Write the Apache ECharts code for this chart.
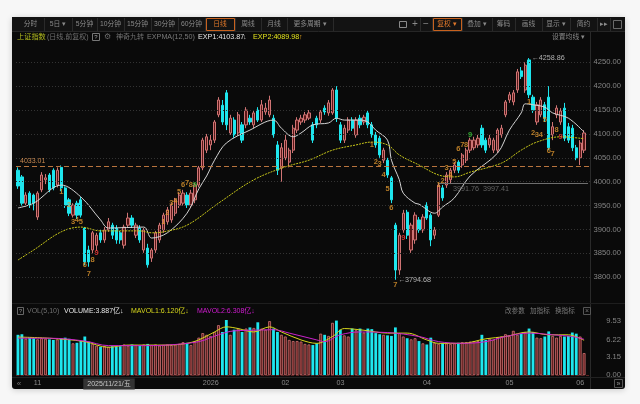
<!DOCTYPE html>
<html><head><meta charset="utf-8">
<script src="https://cdn.jsdelivr.net/npm/echarts@6/dist/echarts.min.js"></script>
<style>
html,body{margin:0;padding:0;background:#f7f7f7;width:640px;height:404px;overflow:hidden;}
#panel{position:absolute;left:12px;top:17px;width:613px;height:372px;background:#0a0a0a;border-radius:3px;box-shadow:0 1px 6px rgba(0,0,0,0.18);}
#c{position:absolute;left:0;top:0;width:640px;height:404px;}
</style></head><body><div id="panel"></div><div id="c"></div>
<script>
// ---------- DATA ----------
// candles: [open, close, low, high]
const candles = [
[4024,3991,3985,4030],[4010,3955,3950,4014],[3955,3972,3948,3978],[3976,3951,3945,3980],[3972,3955,3940,3975],
[3926,3976,3920,3980],[3983,4014,3978,4020],[4004,4008,3995,4016],[4014,3983,3978,4018],[4024,3987,3982,4028],
[3993,4024,3988,4030],[4030,3987,3980,4034],[3987,3951,3945,3990],[3962,3934,3928,3966],[3930,3951,3925,3955],
[3955,3930,3922,3960],[3962,3930,3925,3968],[3903,3832,3825,3905],[3857,3832,3822,3866],[3857,3893,3850,3897],
[3867,3888,3855,3893],[3893,3878,3872,3899],[3878,3899,3872,3905],[3899,3916,3895,3924],[3909,3888,3880,3914],
[3903,3878,3870,3909],[3893,3878,3870,3897],[3867,3905,3860,3910],[3909,3924,3905,3935],[3924,3909,3903,3930],
[3888,3909,3882,3914],[3903,3878,3872,3909],[3857,3899,3851,3903],[3861,3826,3820,3870],[3840,3857,3832,3861],
[3857,3893,3851,3897],[3878,3909,3872,3914],[3899,3930,3893,3935],[3916,3941,3910,3947],[3920,3951,3914,3955],
[3934,3962,3928,3966],[3951,3972,3945,3978],[3955,3976,3950,3983],[3972,3951,3945,3978],[3951,3976,3945,3983],
[3962,3993,3955,3997],[3993,4029,3988,4033],[4029,4087,4024,4092],[4066,4094,4060,4100],[4077,4087,4066,4098],
[4087,4125,4081,4129],[4140,4171,4135,4177],[4160,4125,4119,4171],[4186,4119,4108,4192],[4102,4133,4098,4140],
[4129,4098,4092,4135],[4102,4140,4096,4146],[4119,4087,4081,4125],[4119,4150,4112,4156],[4133,4125,4119,4140],
[4119,4144,4112,4150],[4150,4129,4125,4156],[4129,4161,4125,4171],[4146,4154,4140,4165],[4140,4171,4135,4180],
[4133,4098,4092,4140],[4077,4024,4014,4085],[4029,4071,4000,4081],[4050,4087,4045,4098],[4041,4066,4030,4071],
[4066,4112,4060,4119],[4108,4129,4102,4135],[4125,4133,4119,4140],[4129,4140,4123,4146],[4133,4144,4129,4150],
[4119,4087,4081,4125],[4133,4119,4112,4138],[4129,4146,4123,4150],[4154,4146,4140,4160],[4144,4165,4138,4171],
[4144,4192,4140,4196],[4192,4133,4125,4200],[4119,4087,4081,4125],[4087,4112,4081,4119],[4108,4129,4102,4135],
[4129,4112,4106,4135],[4098,4129,4092,4135],[4133,4119,4112,4140],[4125,4135,4119,4140],[4144,4119,4112,4150],
[4119,4098,4092,4125],[4098,4077,4071,4104],[4091,4056,4050,4096],[4045,4066,4039,4071],[4045,4014,4008,4050],
[4008,3962,3955,4012],[3909,3815,3794.68,3914],[3815,3888,3805,3893],[3899,3934,3893,3941],[3936,3888,3880,3941],
[3857,3909,3851,3914],[3878,3930,3870,3936],[3920,3899,3893,3926],[3899,3926,3893,3932],[3951,3924,3920,3957],
[3930,3878,3865,3934],[3888,3899,3880,3905],[3930,3993,3926,3997],[3987,3966,3960,3993],[3993,4014,3987,4020],
[4004,4024,3995,4029],[4024,4035,4018,4041],[4041,4024,4018,4045],[4035,4056,4029,4060],[4045,4066,4039,4071],
[4066,4087,4060,4092],[4071,4087,4066,4094],[4077,4091,4071,4098],[4112,4077,4071,4119],[4087,4066,4060,4092],
[4077,4091,4071,4098],[4066,4087,4060,4092],[4066,4108,4060,4112],[4098,4112,4092,4119],[4140,4167,4135,4171],
[4171,4182,4165,4188],[4167,4186,4160,4192],[4192,4230,4186,4236],[4232,4220,4215,4240],[4192,4244,4186,4250],
[4255,4182,4175,4258.86],[4177,4150,4144,4182],[4125,4161,4119,4167],[4140,4171,4135,4177],[4161,4133,4125,4167],
[4177,4071,4066,4200],[4098,4115,4087,4125],[4140,4154,4133,4160],[4125,4148,4119,4154],[4154,4091,4085,4165],
[4115,4087,4081,4123],[4112,4071,4064,4119],[4071,4050,4045,4077],[4050,4081,4035,4087],[4066,4102,4060,4108]
];
// volume (亿)
const volumes = [
7.1,7.2,6.4,6.6,6.5,6.3,6.5,6.4,6.3,6.2,6.3,6.5,6.6,6.4,5.6,5.7,6.0,6.8,5.9,5.5,
5.2,5.0,5.1,5.0,5.1,5.0,5.1,5.4,5.2,5.4,5.3,5.3,5.4,5.5,5.3,5.4,5.2,5.3,5.4,5.3,
5.4,5.5,5.8,5.7,5.3,6.0,6.6,7.4,7.1,6.9,7.6,8.8,7.6,9.7,7.1,8.0,8.2,7.6,8.2,8.4,
8.3,9.3,8.2,8.0,9.5,8.2,7.6,7.1,6.8,6.2,6.0,6.0,5.9,5.5,5.4,5.3,5.6,7.3,7.1,6.9,
9.2,9.6,8.0,7.0,6.8,8.2,7.9,8.2,7.5,8.2,8.1,7.4,7.2,7.1,7.0,6.9,8.4,7.4,6.8,6.5,
6.3,6.5,6.0,5.6,5.4,6.6,5.7,5.5,5.6,5.6,5.5,5.6,5.7,5.8,5.8,5.9,6.0,6.0,7.1,6.2,
6.4,6.2,6.7,6.8,7.2,6.9,7.8,7.1,7.3,7.6,8.2,7.6,6.6,6.5,6.8,7.7,6.9,6.6,6.9,6.8,
6.9,7.5,7.3,6.8,3.887
];
// EXPMA lines read as [candle index, value]
const exp1Pts = [[0,3945],[4,3955],[11,3993],[16,3968],[21,3920],[23,3903],[32,3905],[34,3882],[38,3893],[43,3934],[46,3985],[48,4012],[50,4045],[53,4081],[59,4108],[65,4129],[67,4112],[70,4094],[72,4102],[75,4119],[79,4123],[81,4133],[83,4129],[87,4129],[89,4125],[91,4108],[94,4087],[95,4045],[97,4004],[98,3976],[101,3955],[102,3953],[106,3934],[108,3947],[111,3966],[115,4012],[122,4060],[125,4108],[128,4144],[129,4163],[131,4161],[134,4156],[136,4144],[140,4133],[144,4103.87]];
const exp2Pts = [[0,3836],[4,3857],[11,3895],[16,3905],[21,3897],[31,3897],[34,3893],[37,3895],[43,3909],[51,3955],[60,4004],[68,4031],[74,4045],[80,4066],[86,4077],[90,4083],[94,4077],[97,4056],[102,4035],[107,4014],[111,4010],[115,4020],[123,4039],[128,4066],[132,4083],[138,4094],[144,4089.98]];
const mavol1Pts = [[0,6.7],[8,6.5],[17,5.9],[23,4.9],[28,5.3],[38,5.3],[43,5.6],[46,6.2],[50,7.6],[53,8.5],[56,8.2],[60,7.6],[64,8.5],[67,7.6],[72,6.2],[76,5.6],[80,6.8],[83,8.2],[88,7.9],[94,7.4],[99,7.4],[104,6.2],[107,5.6],[113,5.6],[119,6.4],[124,6.8],[130,7.6],[135,7.1],[140,7.1],[144,6.12]];
const mavol2Pts = [[0,6.5],[8,6.5],[17,6.0],[23,5.2],[33,5.2],[38,5.3],[46,5.9],[51,7.1],[55,7.8],[60,7.9],[65,8.0],[69,7.4],[76,6.2],[78,5.9],[82,7.1],[87,7.6],[94,7.5],[102,6.8],[107,5.9],[113,5.6],[119,5.9],[124,6.8],[130,7.4],[136,7.1],[141,6.8],[144,6.31]];
// 神奇九转 marks: [index, price, text, colour key]
const nineMarks = [
[11,3978,'1','o'],[13,3951,'2','o'],[14,3916,'3','o'],[15,3920,'4','o'],[16,3916,'5','o'],[17,3826,'6','o'],[18,3807,'7','o'],[19,3836,'8','o'],[20,3851,'9','r'],
[37,3916,'1','o'],[38,3934,'2','o'],[39,3955,'3','o'],[40,3960,'4','o'],[41,3978,'5','o'],[42,3993,'6','o'],[43,3997,'7','o'],[44,3993,'8','o'],[45,3993,'9','g'],
[90,4077,'1','o'],[91,4041,'2','o'],[92,4037,'3','o'],[93,4014,'4','o'],[94,3985,'5','o'],[95,3945,'6','o'],[96,3784,'7','o'],[98,3882,'9','r'],
[107,3993,'1','o'],[108,4002,'2','o'],[109,4029,'3','o'],[110,4014,'4','o'],[111,4041,'5','o'],[112,4068,'6','o'],[113,4077,'7','o'],[114,4077,'8','o'],[115,4098,'9','g'],
[130,4167,'1','o'],[131,4102,'2','o'],[132,4098,'3','o'],[133,4098,'4','o'],[134,4129,'5','o'],[135,4064,'6','o'],[136,4058,'7','o'],[137,4108,'8','o'],[138,4094,'9','r']
];
const priceTicks = [3800,3850,3900,3950,4000,4050,4100,4150,4200,4250];
const volTicks = [0,3.15,6.22,9.53];
const tickLabels = {4:'11',47:'2026',67:'02',81:'03',103:'04',124:'05',142:'06'};
const refLine = 4033.01, drawLine = 3997.41;
const peak = {idx:130, val:4258.86}, low = {idx:96, val:3794.68};

// ---------- CHART ----------
const FONT = '"Liberation Sans","Noto Sans CJK SC",sans-serif';
const UP_FILL = '#5a1616', UP_LINE = '#cf7474', DOWN = '#1ee6ee';
const categories = Array.from({length: candles.length + 1}, (_, i) => String(i));
const nineColor = {o:'#e39a2f', r:'#ff3a3a', g:'#3ccf3c'};

function txt(x, y, text, fill, size, extra) {
  return Object.assign({type:'text', x:x, y:y, silent:true,
    style:Object.assign({text:text, fill:fill, fontSize:size||7, fontFamily:FONT, verticalAlign:'middle'}, extra||{})});
}
function ln(x1,y1,x2,y2,c){return {type:'line',silent:true,shape:{x1,y1,x2,y2},style:{stroke:c,lineWidth:1}};}
function box(x,y,w,h,c,fill){return {type:'rect',silent:true,shape:{x,y,width:w,height:h},style:{stroke:c,fill:fill||'transparent',lineWidth:1}};}

const graphics = [];
// toolbar
graphics.push({type:'rect',silent:true,shape:{x:12,y:17,width:613,height:14},style:{fill:'#131313'}});
graphics.push(ln(12,31.5,625,31.5,'#262626'));
const leftBtns = [[17,44,'分时'],[44,72,'5日 ▾'],[72,97,'5分钟'],[97,124,'10分钟'],[124,151,'15分钟'],[151,178,'30分钟'],[178,205,'60分钟'],[205,235,'日线'],[235,261,'周线'],[261,287,'月线'],[287,333,'更多周期 ▾']];
leftBtns.forEach(b=>{
  const on = b[2]==='日线';
  graphics.push(txt((b[0]+b[1])/2,24.5,b[2],on?'#e0782a':'#8a8a8a',6.8,{align:'center'}));
  graphics.push(ln(b[1]+0.5,18,b[1]+0.5,31,'#2a2a2a'));
  if(on) graphics.push(box(b[0]+1.5,18.5,b[1]-b[0]-2,12,'#c8621e'));
});
const rightBtns = [[410,420,'+'],[420,432,'−'],[432,462,'复权 ▾'],[462,492,'叠加 ▾'],[492,515,'筹码'],[515,542,'画线'],[542,570,'显示 ▾'],[570,597,'简约'],[597,610,'▸▸']];
rightBtns.forEach(b=>{
  const on = b[2]==='复权 ▾';
  graphics.push(txt((b[0]+b[1])/2,24.5,b[2],on?'#e0782a':'#8a8a8a',(b[2]==='+'||b[2]==='−')?10:6.8,{align:'center'}));
  graphics.push(ln(b[1]+0.5,18,b[1]+0.5,31,'#2a2a2a'));
  if(on) graphics.push(box(b[0]+1.5,18.5,b[1]-b[0]-2,12,'#c8621e'));
});
graphics.push(box(399.5,21.5,7,6,'#8a8a8a'));
graphics.push(box(613.5,20.5,8,8,'#6a6a6a'));
// info row
graphics.push(txt(17,37,'上证指数','#b4bd1e',7.2));
graphics.push(txt(47,37,'(日线,前复权)','#707070',7));
graphics.push(box(92.5,33.5,7,7,'#777'));
graphics.push(txt(96,37.3,'?','#aaa',6,{align:'center'}));
graphics.push(txt(104,37,'⚙','#6a6a6a',8));
graphics.push(txt(116,37,'神奇九转','#707070',7));
graphics.push(txt(147,37,'EXPMA(12,50)','#7a7a7a',7.2));
graphics.push(txt(198,37,'EXP1:4103.87','#e6e6e6',7.2));
graphics.push(txt(243,37,'↓','#bbbbbb',7.2));
graphics.push(txt(253,37,'EXP2:4089.98','#e2e21c',7.2));
graphics.push(txt(299,37,'↑','#e5a21c',7.2));
graphics.push(txt(552,37,'设置均线 ▾','#8a8a8a',6.8));
// separators
graphics.push(ln(590.5,32,590.5,389,'#2a2a2a'));
graphics.push(ln(12,303.5,625,303.5,'#1e1e1e'));
graphics.push(ln(12,377.5,625,377.5,'#222'));
// volume info row
graphics.push(box(17.5,307.5,6,7,'#666'));
graphics.push(txt(20.5,311.2,'?','#999',5.5,{align:'center'}));
graphics.push(txt(27,311,'VOL(5,10)','#707070',7));
graphics.push(txt(64,311,'VOLUME:3.887亿↓','#e6e6e6',7));
graphics.push(txt(131,311,'MAVOL1:6.120亿↓','#d6d61c',7));
graphics.push(txt(197,311,'MAVOL2:6.308亿↓','#d21cd2',7));
graphics.push(txt(505,311,'改参数','#7a7a7a',6.6));
graphics.push(txt(530,311,'加指标','#7a7a7a',6.6));
graphics.push(txt(555,311,'换指标','#7a7a7a',6.6));
graphics.push(box(583.5,307.5,7,7,'#555'));
graphics.push(txt(587,311,'×','#777',7,{align:'center'}));
// bottom bar bits
graphics.push(txt(19,384,'«','#777',8,{align:'center'}));
graphics.push(box(614.5,379.5,8,8,'#555'));
graphics.push(txt(618.5,383.6,'»','#999',7,{align:'center'}));
graphics.push(txt(109,384,'2025/11/21/五','#c8c8c8',7,{align:'center',backgroundColor:'#333',padding:[2,4]}));

const candleData = candles.map(r => r);
const volData = volumes.map((v,i) => {
  const up = candles[i][1] >= candles[i][0];
  return {value:v, itemStyle:{color: up?UP_FILL:DOWN, borderColor: up?UP_LINE:DOWN, borderWidth: up?0.8:0}};
});
const nineData = nineMarks.map(m => ({value:[m[0], m[1]], label:{formatter:m[2], color:nineColor[m[3]]}}));

const gridLines = priceTicks.map(v => ({yAxis:v, lineStyle:{color:'#333', type:[1,2], width:1}, label:{show:false}}));
gridLines.push({yAxis:refLine, lineStyle:{color:'#b8743e', type:[5,3], width:1.2},
  label:{show:true, position:'insideStartTop', formatter:'4033.01', color:'#c98a52', fontSize:7, distance:[4,1], fontFamily:FONT}});
gridLines.push([{coord:[107, drawLine], lineStyle:{color:'#6e6e6e', type:'solid', width:1}, label:{show:false}}, {coord:[145, drawLine]}]);

const option = {
  animation:false,
  backgroundColor:'transparent',
  textStyle:{fontFamily:FONT},
  graphic:graphics,
  grid:[{left:16, top:38.4, width:574, height:262.7}, {left:16, top:317, width:574, height:58.2}],
  xAxis:[
    {type:'category', gridIndex:0, data:categories, boundaryGap:true, axisLine:{show:false}, axisTick:{show:false}, axisLabel:{show:false}, splitLine:{show:false}},
    {type:'category', gridIndex:1, data:categories, boundaryGap:true, axisLine:{show:false}, axisTick:{show:false}, splitLine:{show:false},
     axisLabel:{show:true, interval:(i)=>tickLabels[i]!==undefined, formatter:(v,i)=>tickLabels[i]||'', color:'#8a8a8a', fontSize:7.2, align:'left', margin:4.5}}
  ],
  yAxis:[
    {type:'value', gridIndex:0, position:'right', min:3750, max:4300, interval:50, axisLine:{show:false}, axisTick:{show:false}, splitLine:{show:false},
     axisLabel:{color:'#858585', fontSize:7.6, align:'right', margin:31, formatter:v=>(v<3800||v>4250)?'':v.toFixed(2)}},
    {type:'value', gridIndex:1, position:'right', min:0, max:10.23, axisLine:{show:false}, axisTick:{show:false, customValues:volTicks}, splitLine:{show:false},
     axisLabel:{customValues:volTicks, color:'#858585', fontSize:7.6, align:'right', margin:31, formatter:v=>v.toFixed(2)}}
  ],
  series:[
    {type:'candlestick', xAxisIndex:0, yAxisIndex:0, data:candleData, barWidth:'70%',
     itemStyle:{color:UP_FILL, color0:DOWN, borderColor:UP_LINE, borderColor0:DOWN, borderWidth:1},
     markLine:{silent:true, symbol:['none','none'], animation:false, data:gridLines}},
    {type:'line', xAxisIndex:0, yAxisIndex:0, data:exp1Pts, smooth:0.35, symbol:'none', lineStyle:{color:'#d4d4d4', width:1}, z:3},
    {type:'line', xAxisIndex:0, yAxisIndex:0, data:exp2Pts, smooth:0.35, symbol:'none', lineStyle:{color:'#c9c81a', width:1, type:[2,1]}, z:3},
    {type:'scatter', xAxisIndex:0, yAxisIndex:0, data:nineData, symbolSize:1, itemStyle:{color:'transparent'}, z:5,
     label:{show:true, position:'inside', fontSize:7.5, fontWeight:'bold', fontFamily:FONT}},
    {type:'scatter', xAxisIndex:0, yAxisIndex:0, symbolSize:1, itemStyle:{color:'transparent'}, z:5,
     data:[{value:[peak.idx, peak.val], label:{formatter:'←'+peak.val.toFixed(2)}}, {value:[low.idx, low.val], label:{formatter:'←'+low.val.toFixed(2)}},
           {value:[109.7, 3985], label:{formatter:'3991.76  3997.41', color:'#7a7a7a'}}],
     label:{show:true, position:'right', distance:2, color:'#d8d8d8', fontSize:7.2, fontFamily:FONT}},
    {type:'bar', xAxisIndex:1, yAxisIndex:1, data:volData, barWidth:'72%',
     markLine:{silent:true, symbol:['none','none'], data:[{yAxis:0, lineStyle:{color:'#5a2222', type:[3,2], width:1}, label:{show:false}}]}},
    {type:'line', xAxisIndex:1, yAxisIndex:1, data:mavol1Pts, smooth:0.35, symbol:'none', lineStyle:{color:'#d8d81c', width:1}, z:3},
    {type:'line', xAxisIndex:1, yAxisIndex:1, data:mavol2Pts, smooth:0.35, symbol:'none', lineStyle:{color:'#cc22cc', width:1}, z:3}
  ]
};
const chart = echarts.init(document.getElementById('c'), null, {renderer:'canvas'});
chart.setOption(option);
</script></body></html>
